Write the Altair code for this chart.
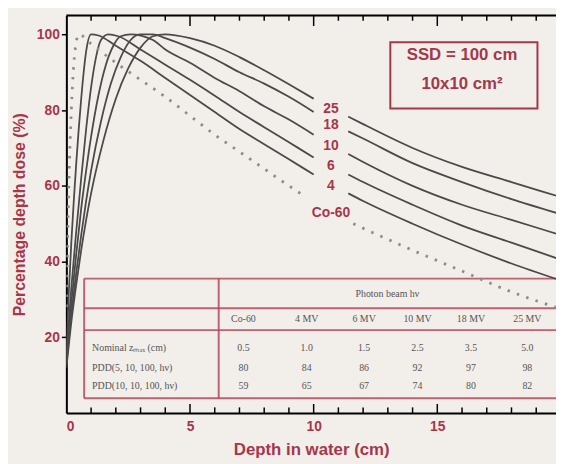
import altair as alt
import pandas as pd

MAROON = "#a5374b"
BG = "#f2eeea"
LINE = "#4a4a4a"
DOT = "#8c8c8c"
TABLE_LINE = "#b5485c"

# ---------------- depth-dose curves (depth in cm, PDD in %) ----------------
co60_depth = [0, 0.1, 0.2, 0.3, 0.4, 0.5, 1, 2, 3, 4, 5, 6, 7, 8, 9, 9.7, 11.6, 12, 14, 16, 18, 20]
co60_pdd = [28, 60, 80, 92, 98, 100, 97.5, 92.5, 88, 83.5, 78.5, 73.5, 69, 64.5, 60, 57, 50, 48.8, 43, 37.5, 32, 27.5]

mv4_depth = [0, 0.1, 0.2, 0.3, 0.4, 0.5, 0.6, 0.7, 0.8, 1.0, 1.3, 2, 3, 4, 5, 6, 7, 8, 9, 10, 11.4, 12, 14, 16, 18, 20]
mv4_pdd = [16, 32, 45, 56, 66, 75, 83, 90, 95.5, 100, 99.7, 97, 93, 88.5, 84, 79.5, 75, 71, 67, 63, 58, 56, 50, 44.5, 39.5, 35]

mv6_depth = [0, 0.2, 0.4, 0.6, 0.8, 1.0, 1.2, 1.4, 1.7, 2.1, 3, 4, 5, 6, 7, 8, 9, 10, 11.4, 12, 14, 16, 18, 20]
mv6_pdd = [15, 33, 48, 62, 75, 86, 94, 98.5, 100, 99.5, 96, 92, 88, 83.8, 79.5, 75.5, 71.5, 67.5, 63, 61, 55, 49.5, 45, 40.5]

mv10_depth = [0, 0.2, 0.4, 0.6, 0.8, 1.0, 1.3, 1.6, 1.9, 2.2, 2.6, 3.5, 4, 5, 6, 7, 8, 9, 10, 11.4, 12, 14, 16, 18, 20]
mv10_pdd = [14, 29, 42, 54, 64, 73, 84, 92, 97, 99.5, 100, 98.5, 96, 92.5, 88.5, 85, 81, 77.5, 73.5, 68.4, 66.3, 60, 55, 51, 47]

mv18_depth = [0, 0.2, 0.4, 0.6, 0.8, 1.0, 1.4, 1.8, 2.2, 2.6, 3.0, 3.5, 4, 5, 6, 7, 8, 9, 10, 11.4, 12, 14, 16, 18, 20]
mv18_pdd = [13, 26, 37, 47, 56, 64, 77, 87, 94, 98.5, 100, 100, 99, 96.5, 93.5, 90, 87, 83.5, 79.5, 74.4, 72.5, 66, 61, 56.5, 52.5]

mv25_depth = [0, 0.2, 0.4, 0.6, 0.8, 1.0, 1.5, 2.0, 2.5, 3.0, 3.5, 4, 5, 6, 7, 8, 9, 10, 11.4, 12, 14, 16, 18, 20]
mv25_pdd = [12, 24, 34, 43, 51, 58, 72, 83, 91, 96.5, 99.5, 100, 99, 97, 94, 90.5, 86.8, 83, 78.3, 76.3, 70, 65, 61, 57]

curve_names = ["Co-60", "4", "6", "10", "18", "25"]

# curve labels
label_text = ["25", "18", "10", "6", "4", "Co-60"]
label_pdd = [80.4, 76.0, 70.5, 65.3, 60.0, 52.8]

# inset table
energies = ["Co-60", "4 MV", "6 MV", "10 MV", "18 MV", "25 MV"]
zmax_vals = ["0.5", "1.0", "1.5", "2.5", "3.5", "5.0"]
pdd5_vals = ["80", "84", "86", "92", "97", "98"]
pdd10_vals = ["59", "65", "67", "74", "80", "82"]
row_labels = ["Nominal z\u2098\u2090\u2093 (cm)", "PDD(5, 10, 100, h\u03bd)", "PDD(10, 10, 100, h\u03bd)"]
table_header = "Photon beam h\u03bd"

x_ticks_labeled = [0, 5, 10, 15]
y_ticks_labeled = [20, 40, 60, 80, 100]
minor_x = [1, 2, 3, 4, 5, 6, 7, 8, 9, 10, 11, 12, 13, 14, 15, 16, 17, 18, 19]

# ---------------- layout constants (positions in data units) ----------------
X_MAX = 19.8
Y_MAX = 105
LABEL_X = 10.7
GAP_START = {"Co-60": 9.7, "4": 10, "6": 10, "10": 10, "18": 10, "25": 10}
TAB_LEFT, TAB_DIV, TAB_RIGHT = 0.72, 6.16, X_MAX
TAB_ROWS_Y = [35.5, 27.7, 21.9, 3.9]
TAB_COL_X = [7.16, 9.72, 12.04, 14.2, 16.36, 18.64]
TAB_HEADER_Y, TAB_ENERGY_Y = 31.3, 24.8
TAB_DATA_Y = [17.2, 12.0, 7.05]
TAB_ROWLABEL_X = 1.04
BOX = dict(x=13.1, x2=19.05, y=97.9, y2=80.4)
BOX_TEXT_X = 16.0
BOX_TEXT_Y = [94.5, 87.0]

xscale = alt.Scale(domain=[0, X_MAX], nice=False, zero=False)
yscale = alt.Scale(domain=[0, Y_MAX], nice=False, zero=False)
xaxis = alt.Axis(
    title="Depth in water (cm)", values=x_ticks_labeled, format="d", grid=False,
    ticks=False, tickSize=0, labelPadding=7, labelFont="Liberation Sans", labelFontSize=14,
    labelFontWeight="bold", labelColor=MAROON, domainColor="black", domainWidth=2,
    titleFont="Liberation Sans", titleFontSize=17, titleFontWeight="bold", titleColor=MAROON,
    titlePadding=8,
)
yaxis = alt.Axis(
    title="Percentage depth dose (%)", values=y_ticks_labeled, format="d", grid=False,
    tickSize=5, tickColor="black", tickWidth=1.5, labelPadding=2, labelFont="Liberation Sans",
    labelFontSize=14, labelFontWeight="bold", labelColor=MAROON, domainColor="black",
    domainWidth=2, titleFont="Liberation Sans", titleFontSize=16, titleFontWeight="bold",
    titleColor=MAROON, titlePadding=9,
)


def X(f):
    return alt.X(f"{f}:Q", scale=xscale, axis=xaxis)


def Y(f):
    return alt.Y(f"{f}:Q", scale=yscale, axis=yaxis)


# ---------------- build tables ----------------
curves = [
    ("Co-60", co60_depth, co60_pdd), ("4", mv4_depth, mv4_pdd), ("6", mv6_depth, mv6_pdd),
    ("10", mv10_depth, mv10_pdd), ("18", mv18_depth, mv18_pdd), ("25", mv25_depth, mv25_pdd),
]
rows = []
for name, ds, ps in curves:
    for d, p in zip(ds, ps):
        rows.append({"series": name, "depth": d, "pdd": p,
                     "key": name + ("a" if d <= GAP_START[name] else "b")})
lines_df = pd.DataFrame(rows)
solid_df = lines_df[lines_df.series != "Co-60"]
dot_df = lines_df[lines_df.series == "Co-60"]

labels_df = pd.DataFrame({"x": [LABEL_X] * 6, "y": label_pdd, "t": label_text})

tick_rows = []
for d in minor_x:
    major = d % 5 == 0
    tick_rows.append({"x": d, "y": 0, "y2": 2.4 if major else 1.5})
    tick_rows.append({"x": d, "y": Y_MAX, "y2": Y_MAX - (2.8 if major else 1.4)})
ticks_df = pd.DataFrame(tick_rows)

frame_df = pd.DataFrame({"x": [0], "x2": [X_MAX], "y": [Y_MAX]})

hrules = pd.DataFrame({"x": [TAB_LEFT] * 4, "x2": [TAB_RIGHT] * 4, "y": TAB_ROWS_Y})
vrules = pd.DataFrame({"x": [TAB_LEFT, TAB_DIV], "y": [TAB_ROWS_Y[0]] * 2, "y2": [TAB_ROWS_Y[-1]] * 2})

cell_rows = [{"x": (TAB_DIV + TAB_RIGHT) / 2, "y": TAB_HEADER_Y, "t": table_header}]
for i, e in enumerate(energies):
    cell_rows.append({"x": TAB_COL_X[i], "y": TAB_ENERGY_Y, "t": e})
    for j, arr in enumerate([zmax_vals, pdd5_vals, pdd10_vals]):
        cell_rows.append({"x": TAB_COL_X[i], "y": TAB_DATA_Y[j], "t": arr[i]})
cells_df = pd.DataFrame(cell_rows)
rowlab_df = pd.DataFrame({"x": [TAB_ROWLABEL_X] * 3, "y": TAB_DATA_Y, "t": row_labels})

box_df = pd.DataFrame([BOX])
box_text_df = pd.DataFrame({"x": [BOX_TEXT_X] * 2, "y": BOX_TEXT_Y, "t": ["SSD = 100 cm", "10x10 cm\u00b2"]})

# ---------------- layers ----------------
table_h = alt.Chart(hrules).mark_rule(color=TABLE_LINE, strokeWidth=2, opacity=0.85).encode(
    x=X("x"), x2="x2:Q", y=Y("y"))
table_v = alt.Chart(vrules).mark_rule(color=TABLE_LINE, strokeWidth=2, opacity=0.85).encode(
    x=X("x"), y=Y("y"), y2="y2:Q")
table_cells = alt.Chart(cells_df).mark_text(
    font="Liberation Serif", fontSize=10, color="#555555", align="center", baseline="middle"
).encode(x=X("x"), y=Y("y"), text="t:N")
table_rowlabels = alt.Chart(rowlab_df).mark_text(
    font="Liberation Serif", fontSize=10, color="#555555", align="left", baseline="middle"
).encode(x=X("x"), y=Y("y"), text="t:N")

solid = alt.Chart(solid_df).mark_line(
    color=LINE, strokeWidth=1.8, clip=True, interpolate="monotone"
).encode(x=X("depth"), y=Y("pdd"), detail="key:N")
dotted = alt.Chart(dot_df).mark_line(
    color=DOT, strokeWidth=2.8, strokeDash=[2.5, 7.5], clip=True, interpolate="monotone"
).encode(x=X("depth"), y=Y("pdd"), detail="key:N")

curve_labels = alt.Chart(labels_df).mark_text(
    font="Liberation Sans", fontSize=14, fontWeight="bold", color=MAROON,
    align="center", baseline="middle"
).encode(x=X("x"), y=Y("y"), text="t:N")

ticks = alt.Chart(ticks_df).mark_rule(color="black", strokeWidth=1.5).encode(
    x=X("x"), y=Y("y"), y2="y2:Q")
frame = alt.Chart(frame_df).mark_rule(color="black", strokeWidth=2).encode(
    x=X("x"), x2="x2:Q", y=Y("y"))

box = alt.Chart(box_df).mark_rect(fillOpacity=0, stroke=MAROON, strokeWidth=2).encode(
    x=X("x"), x2="x2:Q", y=Y("y"), y2="y2:Q")
box_text = alt.Chart(box_text_df).mark_text(
    font="Liberation Sans", fontSize=17, fontWeight="bold", color=MAROON,
    align="center", baseline="middle"
).encode(x=X("x"), y=Y("y"), text="t:N")

chart = alt.layer(
    table_h, table_v, table_cells, table_rowlabels, solid, dotted, curve_labels,
    ticks, frame, box, box_text
).properties(
    width=495, height=402, background=BG,
    autosize=alt.AutoSizeParams(type="none"),
    padding={"left": 59, "top": 5, "right": 0, "bottom": 50},
).configure_view(stroke="transparent").configure(font="Liberation Sans")

chart.save("out.html", embed_options={"renderer": "svg", "actions": False})
